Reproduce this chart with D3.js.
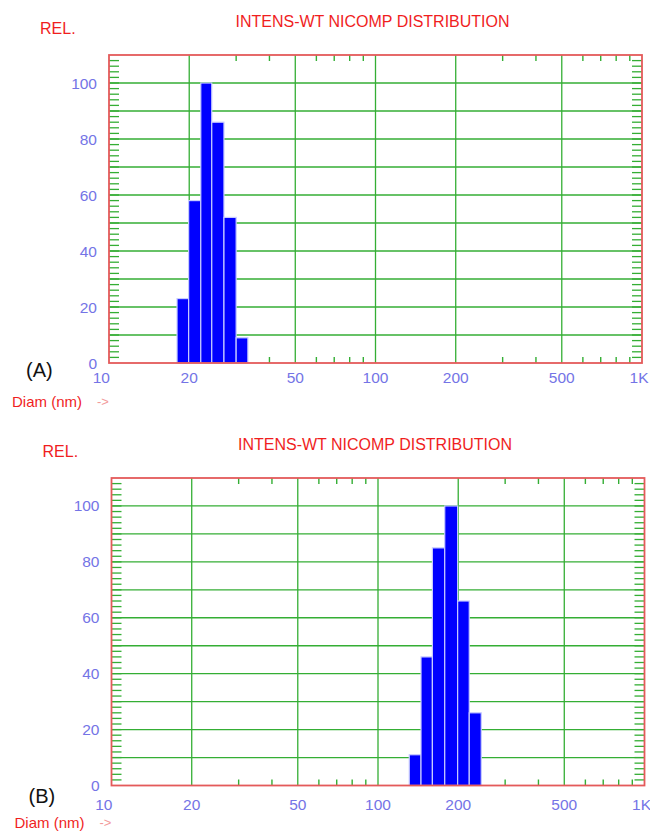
<!DOCTYPE html>
<html>
<head>
<meta charset="utf-8">
<script src="https://cdn.jsdelivr.net/npm/d3@7"></script>
<style>
  html, body { margin: 0; padding: 0; background: #ffffff; }
  svg { display: block; }
</style>
</head>
<body>
<svg id="chart" width="650" height="834"></svg>
<script>
// Bin edges (nm) and relative intensities
const binEdgesA = [18.0, 19.9, 22.1, 24.3, 27.0, 30.0, 33.2];
const valuesA = [23, 58, 100, 86, 52, 9];

const binEdgesB = [131, 145, 160, 178, 199, 220, 244];
const valuesB = [11, 46, 85, 100, 66, 26];

const yTicks = [0, 20, 40, 60, 80, 100];
const xTicks = [10, 20, 50, 100, 200, 500, 1000];
const xTickLabels = ["10", "20", "50", "100", "200", "500", "1K"];
const xGrid = [20, 50, 100, 200, 500];
const xMinor = [30, 40, 60, 70, 80, 90, 300, 400, 600, 700, 800, 900];
const yGrid = d3.range(10, 101, 10);
const yMinor = d3.range(2, 110, 2);

const titleText = "INTENS-WT NICOMP DISTRIBUTION";

const red = "#f01e1e";
const frameRed = "#e45a5a";
const green = "#34ae34";
const tickBlue = "#7474e6";

const svg = d3.select("#chart");
svg.style("font-family", "'Liberation Sans', Arial, sans-serif");

function renderPanel(cfg, edges, values) {
  const { left, right, top, bottom } = cfg;
  const g = svg.append("g");

  const x = d3.scaleLog().domain([10, 1000]).range([left, right]);
  const y = d3.scaleLinear().domain([0, 110]).range([bottom, top]);

  // 1. Titles
  g.append("text")
    .attr("x", (left + right) / 2 - 3)
    .attr("y", cfg.titleY)
    .attr("text-anchor", "middle")
    .attr("fill", red)
    .attr("font-size", "16px")
    .text(titleText);

  g.append("text")
    .attr("x", left - 69)
    .attr("y", cfg.titleY + 7)
    .attr("fill", red)
    .attr("font-size", "16px")
    .text("REL.");

  // 2. Grid lines
  g.selectAll(".hgrid")
    .data(yGrid)
    .join("line")
    .attr("x1", left).attr("x2", right)
    .attr("y1", d => y(d)).attr("y2", d => y(d))
    .attr("stroke", green)
    .attr("stroke-width", 1.3);

  g.selectAll(".vgrid")
    .data(xGrid)
    .join("line")
    .attr("x1", d => x(d)).attr("x2", d => x(d))
    .attr("y1", top).attr("y2", bottom)
    .attr("stroke", green)
    .attr("stroke-width", 1.3);

  // 3. Minor ticks: left/right every 2 units, top/bottom on log minors
  yMinor.forEach(v => {
    g.append("line")
      .attr("x1", left).attr("x2", left + 10)
      .attr("y1", y(v)).attr("y2", y(v))
      .attr("stroke", green).attr("stroke-width", 1.3);
    g.append("line")
      .attr("x1", right - 10).attr("x2", right)
      .attr("y1", y(v)).attr("y2", y(v))
      .attr("stroke", green).attr("stroke-width", 1.3);
  });

  xMinor.forEach(v => {
    g.append("line")
      .attr("x1", x(v)).attr("x2", x(v))
      .attr("y1", top).attr("y2", top + 6)
      .attr("stroke", green).attr("stroke-width", 1.4);
    g.append("line")
      .attr("x1", x(v)).attr("x2", x(v))
      .attr("y1", bottom - 6).attr("y2", bottom)
      .attr("stroke", green).attr("stroke-width", 1.4);
  });

  // 4. Bars
  g.selectAll(".bar")
    .data(values)
    .join("rect")
    .attr("x", (d, i) => x(edges[i]))
    .attr("width", (d, i) => x(edges[i + 1]) - x(edges[i]))
    .attr("y", d => y(d))
    .attr("height", d => bottom - y(d))
    .attr("fill", "#0000ff")
    .attr("stroke", "#c8ccff")
    .attr("stroke-width", 1.2);

  // 5. Frame
  g.append("rect")
    .attr("x", left).attr("y", top)
    .attr("width", right - left).attr("height", bottom - top)
    .attr("fill", "none")
    .attr("stroke", frameRed)
    .attr("stroke-width", 1.8);

  // 6. Tick labels
  g.selectAll(".ylab")
    .data(yTicks)
    .join("text")
    .attr("x", left - 12)
    .attr("y", d => y(d) + 5.5)
    .attr("text-anchor", "end")
    .attr("fill", tickBlue)
    .attr("font-size", "15.5px")
    .text(d => d);

  g.selectAll(".xlab")
    .data(xTicks)
    .join("text")
    .attr("x", (d, i) => i === 0 ? x(d) + 1 : (i === xTicks.length - 1 ? x(d) - 3 : x(d)))
    .attr("y", cfg.xLabelY)
    .attr("text-anchor", (d, i) => i === 0 ? "end" : "middle")
    .attr("fill", tickBlue)
    .attr("font-size", "15.5px")
    .text((d, i) => xTickLabels[i]);

  // 7. Panel tag and axis name
  g.append("text")
    .attr("x", left - 83)
    .attr("y", cfg.tagY)
    .attr("fill", "#111111")
    .attr("font-size", "20px")
    .text(cfg.tag);

  g.append("text")
    .attr("x", left - 97)
    .attr("y", cfg.diamY)
    .attr("fill", red)
    .attr("font-size", "15px")
    .text("Diam (nm)");

  g.append("text")
    .attr("x", left - 12)
    .attr("y", cfg.diamY - 1)
    .attr("fill", "#f29a9a")
    .attr("font-size", "13px")
    .text("->");
}

renderPanel(
  { left: 109, right: 642, top: 55, bottom: 363, titleY: 27, xLabelY: 383, tagY: 377, diamY: 407, tag: "(A)" },
  binEdgesA, valuesA
);

renderPanel(
  { left: 111.5, right: 644.5, top: 478, bottom: 785.5, titleY: 450, xLabelY: 810, tagY: 803, diamY: 828, tag: "(B)" },
  binEdgesB, valuesB
);
</script>
</body>
</html>
